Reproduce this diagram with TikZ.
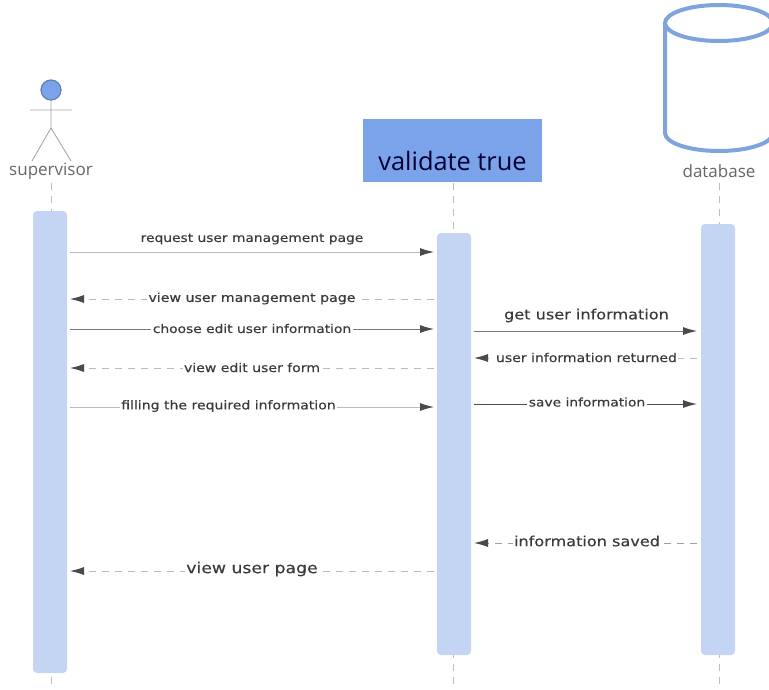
\documentclass[tikz,border=0pt]{standalone}
\usepackage{fontspec}
\setmainfont[FakeStretch=1.15,FakeBold=0.25]{DejaVu Sans}
\newfontfamily\headfont{Open Sans}
\usetikzlibrary{arrows.meta}
\definecolor{barblue}{HTML}{C3D5F3}
\definecolor{headblue}{HTML}{7BA3EA}
\definecolor{dbblue}{HTML}{7FA3DC}
\definecolor{headdark}{HTML}{5F7FB8}
\definecolor{lifeline}{HTML}{BDBDBD}
\definecolor{msgdark}{HTML}{777777}
\definecolor{msglight}{HTML}{BBBBBB}
\definecolor{tipdark}{HTML}{4A4A4A}
\definecolor{msgtext}{HTML}{3A3A3A}
\definecolor{captiontext}{HTML}{666666}
\tikzset{
  bar/.style={fill=barblue,draw=none,rounded corners=4pt},
  life/.style={draw=lifeline,line width=0.9pt,dash pattern=on 7pt off 6pt},
  stick/.style={draw=black!35,line width=0.9pt},
  tip/.style={-{Latex[length=14pt,width=8pt,color=tipdark]}},
  sync/.style={draw=msgdark,line width=1pt,tip},
  syncdim/.style={draw=msglight,line width=1pt,tip},
  reply/.style={draw=msglight,line width=0.9pt,dash pattern=on 7pt off 6pt,tip},
  lbl/.style={fill=white,inner sep=1.5pt,text=msgtext,font=\fontsize{#1}{#1}\selectfont},
  caption/.style={text=captiontext,inner sep=0pt,font=\headfont\fontsize{17}{17}\selectfont},
}
\begin{document}
\begin{tikzpicture}[x=1pt,y=-1pt]
\useasboundingbox (0,0) rectangle (769,689);
% lifelines
\coordinate (supTop) at (51,183);
\coordinate (supBot) at (51,689);
\coordinate (valTop) at (453,183);
\coordinate (valBot) at (453,686);
\coordinate (dbTop) at (719,183);
\coordinate (dbBot) at (719,686);
\draw[life] (supTop) -- (supBot);
\draw[life] (valTop) -- (valBot);
\draw[life] (dbTop) -- (dbBot);
% activation bars
\path[bar] (33,211) rectangle (67,673);
\node[minimum width=34pt,minimum height=462pt,inner sep=0pt] (supBar) at (50,442) {};
\path[bar] (437,233) rectangle (471,655);
\node[minimum width=34pt,minimum height=422pt,inner sep=0pt] (valBar) at (454,444) {};
\path[bar] (701,224) rectangle (735,655);
\node[minimum width=34pt,minimum height=431pt,inner sep=0pt] (dbBar) at (718,439.5) {};
% actor
\draw[stick] (51,100) -- (51,128) (30,110) -- (72,110) (51,128) -- (32,161) (51,128) -- (71,161);
\node[circle,fill=headblue,draw=headdark,line width=1.2pt,minimum size=20pt,inner sep=0pt] (head) at (51,90) {};
\node[caption] (supervisor) at (51,171.5) {supervisor};
% validate box
\node[fill=headblue,minimum width=179pt,minimum height=63pt,inner sep=0pt] (validate) at (452.5,150.5) {};
\node[inner sep=0pt,text=black!80!blue,font=\headfont\fontsize{25.4}{25.4}\selectfont] (validateText) at (452.5,161) {validate true};
% database
\draw[dbblue,line width=4pt] (665,23) -- (665,133) arc[start angle=180,end angle=0,x radius=54,y radius=18] -- (773,23);
\draw[dbblue,line width=4pt,fill=white] (719,23) ellipse[x radius=54,y radius=18];
\node[caption] (database) at (719,171.5) {database};
% message end points
\foreach \n/\y in {a/252,b/299,c/329,d/368,e/407,i/571}{
  \coordinate (\n L) at (70,\y);
  \coordinate (\n R) at (434,\y);
}
\foreach \n/\y in {f/331,g/358,h/404,j/543}{
  \coordinate (\n L) at (474,\y);
  \coordinate (\n R) at (697,\y);
}
% messages
\draw[syncdim] (aL) -- (aR);
\node[text=msgtext,inner sep=0pt,font=\fontsize{12}{12}\selectfont] (ta) at (252,239) {request user management page};
\draw[reply] (bR) -- (bL);
\node[lbl=12.3] (tb) at (252,298.5) {view user management page};
\draw[sync] (cL) -- (cR);
\node[lbl=12] (tc) at (252,328.5) {choose edit user information};
\draw[reply] (dR) -- (dL);
\node[lbl=12.2] (td) at (252,367.5) {view edit user form};
\draw[syncdim] (eL) -- (eR);
\node[lbl=12.2] (te) at (228.5,406) {filling the required information};
\draw[sync] (fL) -- (fR);
\node[text=msgtext,inner sep=0pt,font=\fontsize{14}{14}\selectfont] (tf) at (586.5,315.5) {get user information};
\draw[reply] (gR) -- (gL);
\node[lbl=12.2] (tg) at (586.5,357.5) {user information returned};
\draw[sync,draw=black!70] (hL) -- (hR);
\node[lbl=12] (th) at (587,402) {save information};
\draw[reply,draw=msgdark!70] (jR) -- (jL);
\node[lbl=14] (tj) at (587,541) {information saved};
\draw[reply] (iR) -- (iL);
\node[lbl=15] (ti) at (252,569) {view user page};
\end{tikzpicture}
\end{document}
